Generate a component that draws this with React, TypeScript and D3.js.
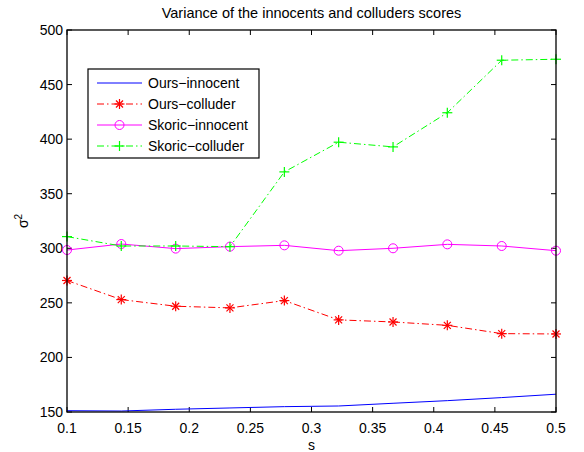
import React from "react";
import * as d3 from "d3";

const sValues = [0.1, 0.1444, 0.1889, 0.2333, 0.2778, 0.3222, 0.3667, 0.4111, 0.4556, 0.5];
const oursInnocent = [151.2, 150.9, 152.5, 153.7, 154.9, 155.5, 158, 160.4, 163.2, 166.3];
const oursColluder = [270.5, 253, 246.9, 245.4, 252.1, 234.4, 232.5, 229.4, 221.8, 221.5];
const skoricInnocent = [298.4, 303.9, 299.7, 301.5, 302.7, 297.8, 300, 303.6, 302.1, 297.8];
const skoricColluder = [310.7, 302.1, 302.1, 301.5, 370, 397.2, 392.9, 424.2, 472.3, 473.2];
const xTicks = [0.1, 0.15, 0.2, 0.25, 0.3, 0.35, 0.4, 0.45, 0.5];
const yTicks = [150, 200, 250, 300, 350, 400, 450, 500];
const seriesNames = ["Ours\u2212innocent", "Ours\u2212colluder", "Skoric\u2212innocent", "Skoric\u2212colluder"];

const W = 584, H = 452;
const L = 67, R = 556, T = 30, B = 412;
const font = "Liberation Sans, Arial, Helvetica, sans-serif";

type Marker = "none" | "star" | "circle" | "plus";

function MarkerGlyph({ m, x, y, color }: { m: Marker; x: number; y: number; color: string }) {
  if (m === "circle") return <circle cx={x} cy={y} r={4.5} fill="none" stroke={color} strokeWidth={1} />;
  if (m === "plus")
    return (
      <g stroke={color} strokeWidth={1.2}>
        <line x1={x - 5} x2={x + 5} y1={y} y2={y} />
        <line x1={x} x2={x} y1={y - 5} y2={y + 5} />
      </g>
    );
  if (m === "star")
    return (
      <g stroke={color} strokeWidth={1.2}>
        <line x1={x - 5} x2={x + 5} y1={y} y2={y} />
        <line x1={x} x2={x} y1={y - 5} y2={y + 5} />
        <line x1={x - 3.5} x2={x + 3.5} y1={y - 3.5} y2={y + 3.5} />
        <line x1={x - 3.5} x2={x + 3.5} y1={y + 3.5} y2={y - 3.5} />
      </g>
    );
  return null;
}

export default function App() {
  const x = d3.scaleLinear().domain([0.1, 0.5]).range([L, R]);
  const y = d3.scaleLinear().domain([150, 500]).range([B, T]);
  const line = d3
    .line<number>()
    .x((_, i) => x(sValues[i]))
    .y((d) => y(d));

  const series = [
    { name: seriesNames[0], data: oursInnocent, color: "#0000ff", dash: "", m: "none" as Marker },
    { name: seriesNames[1], data: oursColluder, color: "#ff0000", dash: "7,3,1.5,3", m: "star" as Marker },
    { name: seriesNames[2], data: skoricInnocent, color: "#ff00ff", dash: "", m: "circle" as Marker },
    { name: seriesNames[3], data: skoricColluder, color: "#00ff00", dash: "7,3,1.5,3", m: "plus" as Marker },
  ];

  const legX = 88, legY = 69, legW = 171, legH = 89;

  return (
    <svg width={W} height={H} style={{ position: "absolute", left: 0, top: 0, background: "#fff" }} fontFamily={font}>
      <rect x={0} y={0} width={W} height={H} fill="#fff" />
      <text x={(L + R) / 2} y={18} textAnchor="middle" fontSize={14.5}>
        Variance of the innocents and colluders scores
      </text>
      <defs>
        <clipPath id="plotclip">
          <rect x={L - 6} y={T - 6} width={R - L + 12} height={B - T + 12} />
        </clipPath>
      </defs>
      {xTicks.map((t) => (
        <g key={"x" + t}>
          <line x1={x(t)} x2={x(t)} y1={B} y2={B - 5} stroke="#000" />
          <line x1={x(t)} x2={x(t)} y1={T} y2={T + 5} stroke="#000" />
          <text x={x(t)} y={B + 21} textAnchor="middle" fontSize={14}>
            {String(t)}
          </text>
        </g>
      ))}
      {yTicks.map((t) => (
        <g key={"y" + t}>
          <line x1={L} x2={L + 5} y1={y(t)} y2={y(t)} stroke="#000" />
          <line x1={R} x2={R - 5} y1={y(t)} y2={y(t)} stroke="#000" />
          <text x={L - 4} y={y(t) + 5} textAnchor="end" fontSize={14}>
            {t}
          </text>
        </g>
      ))}
      <text x={(L + R) / 2} y={450} textAnchor="middle" fontSize={14}>
        s
      </text>
      <text transform={`translate(28,${(T + B) / 2}) rotate(-90)`} textAnchor="middle" fontSize={14}>
        σ<tspan fontSize={10} dy={-6}>2</tspan>
      </text>
      <g clipPath="url(#plotclip)">
        {series.map((s) => (
          <g key={s.name}>
            <path d={line(s.data) || ""} fill="none" stroke={s.color} strokeWidth={1} strokeDasharray={s.dash} />
            {s.m !== "none" &&
              s.data.map((v, i) => <MarkerGlyph key={i} m={s.m} x={x(sValues[i])} y={y(v)} color={s.color} />)}
          </g>
        ))}
      </g>
      <rect x={L} y={T} width={R - L} height={B - T} fill="none" stroke="#000" strokeWidth={1.3} />
      <rect x={legX} y={legY} width={legW} height={legH} fill="#fff" stroke="#000" strokeWidth={1.2} />
      {series.map((s, i) => {
        const cy = 83 + i * 21;
        return (
          <g key={"leg" + i}>
            <line x1={97} x2={142} y1={cy} y2={cy} stroke={s.color} strokeWidth={1} strokeDasharray={s.dash} />
            {s.m !== "none" && <MarkerGlyph m={s.m} x={119.5} y={cy} color={s.color} />}
            <text x={148} y={cy + 5} fontSize={14}>
              {s.name}
            </text>
          </g>
        );
      })}
    </svg>
  );
}
